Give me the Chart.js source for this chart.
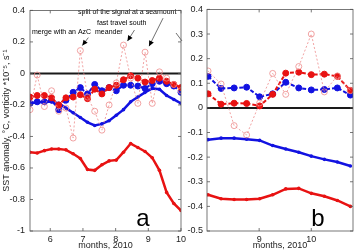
<!DOCTYPE html>
<html>
<head>
<meta charset="utf-8">
<script src="https://cdn.jsdelivr.net/npm/chart.js@4.4.0/dist/chart.umd.min.js"></script>
<style>
  html, body { margin: 0; padding: 0; background: #fff; }
  body { width: 358px; height: 252px; position: relative; overflow: hidden; }
  canvas { position: absolute; top: 0; }
  #chartA { left: 0; }
  #chartB { left: 184px; }
</style>
</head>
<body>
<canvas id="chartA" width="192" height="252"></canvas>
<canvas id="chartB" width="174" height="252"></canvas>
<script>
// ---- panel a (weekly values, months of 2010) ----
const monthsA = [5.38, 5.60, 5.82, 6.04, 6.26, 6.48, 6.70, 6.92, 7.14, 7.36, 7.58, 7.80, 8.02, 8.24, 8.46, 8.68, 8.90, 9.12, 9.34, 9.56, 9.78, 10.00];
const sstA = [-0.50, -0.505, -0.49, -0.48, -0.48, -0.485, -0.51, -0.54, -0.61, -0.615, -0.58, -0.555, -0.55, -0.50, -0.445, -0.47, -0.495, -0.535, -0.615, -0.755, -0.825, -0.87];
const blueSolidA = [-0.19, -0.185, -0.18, -0.18, -0.19, -0.22, -0.25, -0.28, -0.31, -0.33, -0.32, -0.30, -0.265, -0.23, -0.18, -0.15, -0.12, -0.095, -0.10, -0.14, -0.165, -0.19];
const redCirclesA = [-0.15, -0.14, -0.14, -0.155, -0.20, -0.155, -0.15, -0.135, -0.16, -0.10, -0.13, -0.09, -0.075, -0.04, -0.015, -0.03, -0.055, -0.045, -0.03, -0.05, -0.07, -0.09];
const blueCirclesA = [-0.19, -0.18, -0.18, -0.17, -0.23, -0.17, -0.12, -0.09, -0.13, -0.07, -0.11, -0.09, -0.11, -0.075, -0.075, -0.08, -0.095, -0.065, -0.05, -0.065, -0.08, -0.12];
const pinkCirclesA = [-0.23, -0.01, -0.21, -0.11, -0.24, -0.22, -0.41, 0.145, -0.15, -0.24, -0.36, -0.20, -0.06, 0.18, -0.03, -0.19, 0.135, -0.19, 0.01, -0.03, -0.07, -0.11];
const xTicksA = [6, 7, 8, 9, 10];
const yTicksA = [-1, -0.8, -0.6, -0.4, -0.2, 0, 0.2, 0.4];

// ---- panel b ----
const monthsB = [8.02, 8.27, 8.52, 8.76, 9.01, 9.26, 9.51, 9.76, 10.00, 10.25, 10.50, 10.75];
const sstB = [-0.353, -0.369, -0.372, -0.372, -0.369, -0.353, -0.329, -0.327, -0.347, -0.359, -0.376, -0.40];
const blueSolidB = [-0.129, -0.123, -0.123, -0.127, -0.132, -0.153, -0.167, -0.18, -0.196, -0.209, -0.22, -0.236];
const redCirclesB = [0.057, 0.015, 0.019, 0.018, 0.008, 0.055, 0.141, 0.145, 0.135, 0.137, 0.128, 0.071];
const blueCirclesB = [0.128, 0.079, 0.081, 0.084, 0.045, 0.057, 0.104, 0.081, 0.073, 0.075, 0.081, 0.052];
const pinkCirclesB = [0.15, 0.097, -0.072, -0.11, 0.02, 0.14, 0.055, 0.168, 0.30, 0.065, 0.13, 0.07];
const xTicksB = [9, 10];
const yTicksB = [-0.5, -0.4, -0.3, -0.2, -0.1, 0, 0.1, 0.2, 0.3, 0.4];

const FONT = "'Liberation Sans', Arial, sans-serif";
const RED = 'rgb(232,18,18)';
const BLUE = 'rgb(18,18,225)';
const PINK = 'rgb(238,140,140)';

function toPoints(xs, ys) {
    return xs.map((x, i) => ({ x: x, y: ys[i] }));
}

function solidLine(xs, ys, color) {
    return {
        data: toPoints(xs, ys), borderColor: color, borderWidth: 2.5,
        pointRadius: 1.8, pointBorderWidth: 0, pointBackgroundColor: color
    };
}

function circleLine(xs, ys, color) {
    return {
        data: toPoints(xs, ys), borderColor: color, borderWidth: 2, borderDash: [4, 2],
        pointRadius: 3, pointBorderWidth: 1, pointBackgroundColor: color, pointBorderColor: color
    };
}

function thinCircleLine(xs, ys, color) {
    return {
        data: toPoints(xs, ys), borderColor: color, borderWidth: 0.8, borderDash: [2, 2],
        pointRadius: 3, pointBorderWidth: 0.8, pointBackgroundColor: 'rgba(255,255,255,0)', pointBorderColor: color
    };
}

function fmt(v) {
    return String(Math.round(v * 10) / 10);
}

function scaleOptions(xMin, xMax, xTicks, yMin, yMax, yTicks, yWidth, yPad, yTitle) {
    return {
        x: {
            type: 'linear', min: xMin, max: xMax,
            afterBuildTicks: s => { s.ticks = xTicks.map(v => ({ value: v })); },
            afterFit: s => { s.height = 21; },
            grid: { display: false, drawTicks: false },
            border: { display: false },
            ticks: { font: { family: FONT, size: 9 }, color: '#222', padding: 3, maxRotation: 0, callback: v => String(v) },
            title: { display: true, text: 'months, 2010', font: { family: FONT, size: 9 }, color: '#222', padding: { top: 0, bottom: 1 } }
        },
        y: {
            type: 'linear', min: yMin, max: yMax,
            afterBuildTicks: s => { s.ticks = yTicks.map(v => ({ value: v })); },
            afterFit: s => { s.width = yWidth; },
            grid: { display: false, drawTicks: false },
            border: { display: false },
            ticks: { font: { family: FONT, size: 9 }, color: '#222', padding: yPad, callback: fmt },
            title: { display: !!yTitle, text: yTitle || '', font: { family: FONT, size: 9 }, color: '#222', padding: { top: 1, bottom: 0 } }
        }
    };
}

// axes box, inward tick marks and the zero line
const framePlugin = {
    id: 'frame',
    beforeDatasetsDraw(chart) {
        const { ctx, chartArea: a, scales: { y } } = chart;
        const y0 = y.getPixelForValue(0);
        ctx.save();
        ctx.strokeStyle = '#1a1a1a';
        ctx.lineWidth = 2;
        ctx.beginPath();
        ctx.moveTo(a.left, y0);
        ctx.lineTo(a.right, y0);
        ctx.stroke();
        ctx.restore();
    },
    afterDraw(chart) {
        const { ctx, chartArea: a, scales: { x, y } } = chart;
        ctx.save();
        ctx.strokeStyle = '#555';
        ctx.lineWidth = 0.8;
        ctx.strokeRect(a.left, a.top, a.right - a.left, a.bottom - a.top);
        ctx.beginPath();
        y.ticks.forEach(t => {
            const py = y.getPixelForValue(t.value);
            ctx.moveTo(a.left, py); ctx.lineTo(a.left + 3, py);
            ctx.moveTo(a.right, py); ctx.lineTo(a.right - 3, py);
        });
        x.ticks.forEach(t => {
            const px = x.getPixelForValue(t.value);
            ctx.moveTo(px, a.bottom); ctx.lineTo(px, a.bottom - 3);
            ctx.moveTo(px, a.top); ctx.lineTo(px, a.top + 3);
        });
        ctx.stroke();
        // panel letter
        const lab = chart.options.plugins.frame;
        ctx.fillStyle = '#000';
        ctx.font = '24px ' + FONT;
        ctx.textAlign = 'center';
        ctx.textBaseline = 'alphabetic';
        ctx.fillText(lab.letter, a.right - lab.dx, a.bottom - 5);
        ctx.restore();
    }
};

function arrow(ctx, x1, y1, x2, y2) {
    const ang = Math.atan2(y2 - y1, x2 - x1);
    ctx.beginPath();
    ctx.moveTo(x1, y1);
    ctx.lineTo(x2, y2);
    ctx.stroke();
    ctx.beginPath();
    ctx.moveTo(x2, y2);
    ctx.lineTo(x2 - 6 * Math.cos(ang - 0.45), y2 - 6 * Math.sin(ang - 0.45));
    ctx.lineTo(x2 - 6 * Math.cos(ang + 0.45), y2 - 6 * Math.sin(ang + 0.45));
    ctx.closePath();
    ctx.fill();
}

// text notes in panel a, arrows aim at the pink peaks
const notesPlugin = {
    id: 'notes',
    afterDatasetsDraw(chart) {
        const { ctx, scales: { x, y } } = chart;
        const peak = i => ({ x: x.getPixelForValue(monthsA[i]), y: y.getPixelForValue(pinkCirclesA[i]) });
        ctx.save();
        ctx.fillStyle = '#000';
        ctx.strokeStyle = '#333';
        ctx.lineWidth = 0.7;
        ctx.font = '7px ' + FONT;
        ctx.textBaseline = 'middle';
        ctx.fillText('split of the signal at a seamount', 78, 12);
        ctx.fillText('fast travel south', 97, 23);
        ctx.fillText('merge with an AzC  meander', 32, 32);
        let p = peak(7);
        arrow(ctx, p.x + 8, p.y - 13, p.x + 2, p.y - 5);
        p = peak(13);
        arrow(ctx, p.x + 11, p.y - 15, p.x + 4, p.y - 4);
        p = peak(16);
        arrow(ctx, p.x + 18, p.y - 34, p.x + 4, p.y - 6);
        ctx.beginPath();
        ctx.moveTo(176, 33);
        ctx.lineTo(182, 41);
        ctx.stroke();
        ctx.restore();
    }
};

new Chart(document.getElementById('chartA'), {
    type: 'line',
    data: {
        datasets: [
            thinCircleLine(monthsA, pinkCirclesA, PINK),
            circleLine(monthsA, redCirclesA, RED),
            circleLine(monthsA, blueCirclesA, BLUE),
            solidLine(monthsA, blueSolidA, BLUE),
            solidLine(monthsA, sstA, RED)
        ]
    },
    options: {
        responsive: false,
        animation: false,
        layout: { padding: { top: 7, right: 11, left: 0, bottom: 0 } },
        scales: scaleOptions(5.38, 10.0, xTicksA, -1, 0.4, yTicksA, 30, 5, 'SST anomaly, \u00B0C, vorticity *10\u207B\u2075, s\u207B\u00B9'),
        plugins: {
            legend: { display: false },
            tooltip: { enabled: false },
            frame: { letter: 'a', dx: 38 }
        }
    },
    plugins: [framePlugin, notesPlugin]
});

new Chart(document.getElementById('chartB'), {
    type: 'line',
    data: {
        datasets: [
            thinCircleLine(monthsB, pinkCirclesB, PINK),
            circleLine(monthsB, redCirclesB, RED),
            circleLine(monthsB, blueCirclesB, BLUE),
            solidLine(monthsB, blueSolidB, BLUE),
            solidLine(monthsB, sstB, RED)
        ]
    },
    options: {
        responsive: false,
        animation: false,
        layout: { padding: { top: 7, right: 1, left: 0, bottom: 0 } },
        scales: scaleOptions(8.0, 10.8, xTicksB, -0.5, 0.4, yTicksB, 23, 4, ''),
        plugins: {
            legend: { display: false },
            tooltip: { enabled: false },
            frame: { letter: 'b', dx: 35 }
        }
    },
    plugins: [framePlugin]
});
</script>
</body>
</html>
